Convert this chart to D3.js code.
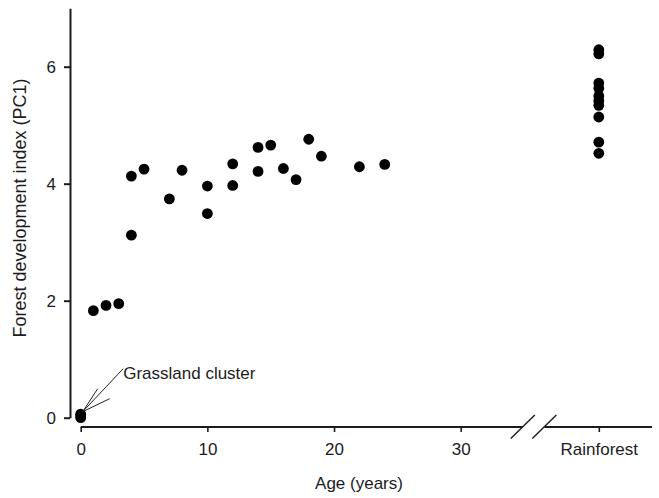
<!DOCTYPE html>
<html>
<head>
<meta charset="utf-8">
<script src="https://cdn.jsdelivr.net/npm/d3@7"></script>
<style>
  html, body { margin: 0; padding: 0; background: #fff; }
  svg { display: block; font-family: "Liberation Sans", Arial, sans-serif; }
</style>
</head>
<body>
<svg id="chart" width="659" height="498"></svg>
<script>
// ---- Data ----
const grassAges = [0, 0, 0];
const grassValues = [0.0, 0.03, 0.06];

const successionAges = [1, 2, 3, 4, 4, 5, 7, 8, 10, 10, 12, 12, 14, 14, 15, 16, 17, 18, 19, 22, 24];
const successionValues = [1.83, 1.92, 1.95, 4.13, 3.12, 4.25, 3.74, 4.23, 3.96, 3.49, 4.34, 3.97, 4.62, 4.21, 4.66, 4.26, 4.07, 4.76, 4.47, 4.29, 4.33];

const rainforestValues = [6.29, 6.22, 5.72, 5.63, 5.50, 5.42, 5.34, 5.14, 4.71, 4.52];
const rainforestPos = 40.9;     // position of the "Rainforest" category on the x axis

const xTickValues = [0, 10, 20, 30, rainforestPos];
const xTickLabels = ["0", "10", "20", "30", "Rainforest"];
const yTickValues = [0, 2, 4, 6];

const xDomain = [0, 45.1];
const yDomain = [0, 7];
const breakStart = 34.9, breakEnd = 36.6;

const xTitle = "Age (years)";
const yTitle = "Forest development index (PC1)";
const annotation = "Grassland cluster";

// ---- Layout ----
const svg = d3.select("#chart");
const ink = "#1c1c1c";
const x = d3.scaleLinear().domain(xDomain).range([80.7, 652]);
const y = d3.scaleLinear().domain(yDomain).range([417.7, 8.2]);
const xAxisY = 427;
const yAxisX = 70;

// y axis
const gy = svg.append("g").attr("transform", `translate(${yAxisX},0)`)
  .call(d3.axisLeft(y).tickValues(yTickValues).tickSize(6).tickSizeOuter(0).tickPadding(8).tickFormat(d3.format("d")));
gy.select(".domain").attr("stroke", ink).attr("stroke-width", 2);
gy.selectAll(".tick line").attr("stroke", ink).attr("stroke-width", 2);
gy.selectAll(".tick text").attr("fill", ink).style("font-size", "17px").attr("font-family", null);

// x axis
const gx = svg.append("g").attr("transform", `translate(0,${xAxisY})`)
  .call(d3.axisBottom(x).tickValues(xTickValues).tickSize(5).tickPadding(11)
    .tickFormat((d, i) => xTickLabels[i]));
gx.select(".domain").remove();
gx.selectAll(".tick line").attr("stroke", ink).attr("stroke-width", 1.6);
gx.selectAll(".tick text").attr("fill", ink).style("font-size", "17px").attr("font-family", null);
gx.append("line").attr("x1", x(0)).attr("x2", x(breakStart)).attr("y1", 0).attr("y2", 0)
  .attr("stroke", ink).attr("stroke-width", 2);
gx.append("line").attr("x1", x(breakEnd)).attr("x2", x(xDomain[1])).attr("y1", 0).attr("y2", 0)
  .attr("stroke", ink).attr("stroke-width", 2);
// break slashes
[breakStart, breakEnd].forEach(b => {
  gx.append("line").attr("x1", x(b) - 12).attr("y1", 11.5).attr("x2", x(b) + 12).attr("y2", -12)
    .attr("stroke", ink).attr("stroke-width", 1.4);
});

// titles
svg.append("text").attr("x", 359).attr("y", 489).attr("text-anchor", "middle")
  .attr("fill", ink).style("font-size", "17px").text(xTitle);
svg.append("text").attr("transform", "translate(26,208) rotate(-90)").attr("text-anchor", "middle")
  .attr("fill", ink).style("font-size", "18px").text(yTitle);

// points
const r = 5.4;
const pts = svg.append("g");
pts.selectAll("circle.g").data(grassValues).join("circle")
  .attr("cx", (d, i) => x(grassAges[i])).attr("cy", d => y(d)).attr("r", r).attr("fill", "#000");
pts.selectAll("circle.s").data(successionValues).join("circle")
  .attr("cx", (d, i) => x(successionAges[i])).attr("cy", d => y(d)).attr("r", r).attr("fill", "#000");
pts.selectAll("circle.rf").data(rainforestValues).join("circle")
  .attr("cx", x(rainforestPos)).attr("cy", d => y(d)).attr("r", r).attr("fill", "#000");

// annotation
const ax = x(0) + 2, ay = y(0) - 6;
const ann = svg.append("g").attr("stroke", "#222").attr("stroke-width", 1);
ann.append("line").attr("x1", ax).attr("y1", ay).attr("x2", ax + 40.5).attr("y2", ay - 43);
ann.append("line").attr("x1", ax).attr("y1", ay).attr("x2", ax + 15).attr("y2", ay - 23);
ann.append("line").attr("x1", ax).attr("y1", ay).attr("x2", ax + 27).attr("y2", ay - 13);
svg.append("text").attr("x", ax + 40.5).attr("y", 379).attr("fill", ink)
  .style("font-size", "17px").text(annotation);
</script>
</body>
</html>
